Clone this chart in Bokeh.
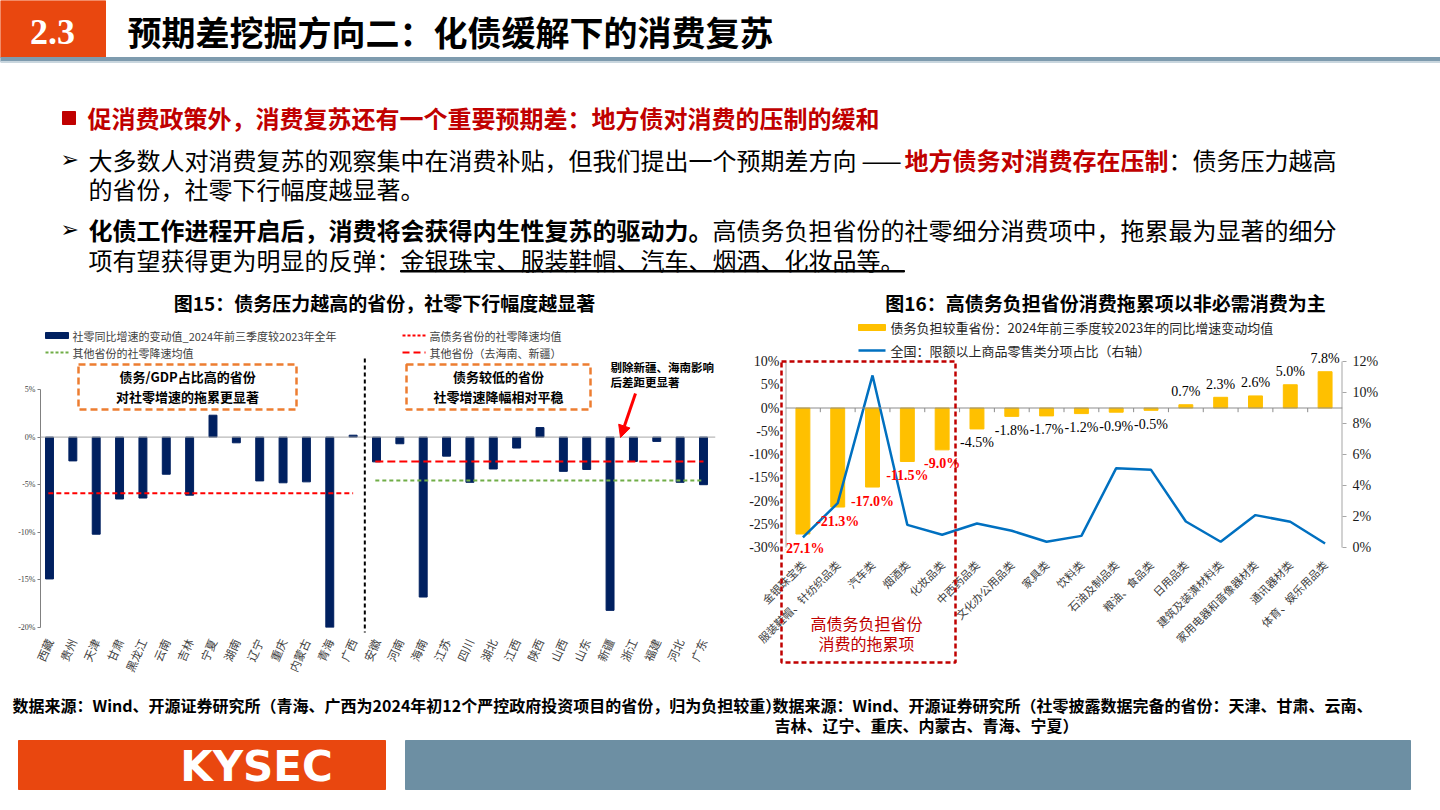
from bokeh.plotting import figure
from bokeh.models import (Range1d, LinearAxis, FixedTicker, PrintfTickFormatter, Label, LabelSet,
                          Arrow, NormalHead, Span, ColumnDataSource)
from bokeh.layouts import column, row
from bokeh.embed import file_html
from bokeh.resources import INLINE
from bokeh.core.properties import value

CJK = "Noto Sans CJK SC"
SERIF = "Liberation Serif"
SYM = "DejaVu Sans"

# ---------------- 图15 data ----------------
high_provinces = ["西藏", "贵州", "天津", "甘肃", "黑龙江", "云南", "吉林", "宁夏", "湖南", "辽宁",
                  "重庆", "内蒙古", "青海", "广西"]
high_change = [-14.9, -2.5, -10.2, -6.5, -6.4, -3.9, -6.1, 2.3, -0.6, -4.6, -4.8, -4.7, -20.0, 0.2]
other_provinces = ["安徽", "河南", "海南", "江苏", "四川", "湖北", "江西", "陕西", "山西", "山东",
                   "新疆", "浙江", "福建", "河北", "广东"]
other_change = [-2.6, -0.7, -16.8, -2.0, -4.75, -3.35, -1.15, 1.0, -3.6, -3.4, -18.2, -2.55, -0.45, -4.75, -5.0]
excluded_provinces = ["海南", "新疆"]
f15_ticks = [-20, -15, -10, -5, 0, 5]

# ---------------- 图16 data ----------------
categories = ["金银珠宝类", "服装鞋帽、针纺织品类", "汽车类", "烟酒类", "化妆品类", "中西药品类",
              "文化办公用品类", "家具类", "饮料类", "石油及制品类", "粮油、食品类", "日用品类",
              "建筑及装潢材料类", "家用电器和音像器材类", "通讯器材类", "体育、娱乐用品类"]
burden_change = [-27.1, -21.3, -17.0, -11.5, -9.0, -4.5, -1.8, -1.7, -1.2, -0.9, -0.5, 0.7, 2.3, 2.6, 5.0, 7.8]
national_share = [0.65, 2.86, 11.1, 1.46, 0.82, 1.55, 1.08, 0.37, 0.75, 5.12, 5.01, 1.68, 0.37, 2.09, 1.66, 0.26]
drag_items = 5
f16_left_ticks = [-30, -25, -20, -15, -10, -5, 0, 5, 10]
f16_right_ticks = [0, 2, 4, 6, 8, 10, 12]

W = 1440
MID_TOP, MID_BOT = 315, 690


def canvas(w, y0, y1):
    f = figure(width=w, height=y1 - y0, x_range=Range1d(0, w), y_range=Range1d(y1, y0),
               x_axis_type=None, y_axis_type=None, toolbar_location=None,
               output_backend="svg", min_border=0, title=None, frame_align=False)
    f.outline_line_color = None
    return f


def put(f, x, y, text, size, color="#000000", bold=False, align="left", font=CJK):
    f.add_layout(Label(x=x, y=y, text=text, text_font=font, text_font_size=f"{size}px",
                       text_font_style="bold" if bold else "normal", text_color=color,
                       text_align=align, text_baseline="middle"))


# ================= top: header + bullets + chart titles =================
top = canvas(W, 0, MID_TOP)
top.quad(left=0, right=105, top=0, bottom=57, color="#E9470F")
top.quad(left=0, right=W, top=57, bottom=61, color="#7E9BAE")
top.quad(left=0, right=W, top=61, bottom=62, color="#C9D6DE")
put(top, 52, 31, "2.3", 36, "white", True, "center", SERIF)
put(top, 127, 31, "预期差挖掘方向二：化债缓解下的消费复苏", 34, "#000000", True)

top.quad(left=62, right=75, top=111, bottom=124, color="#C00000")
put(top, 87, 117, "促消费政策外，消费复苏还有一个重要预期差：地方债对消费的压制的缓和", 24, "#C00000", True)
put(top, 60, 159, "➢", 22, font=SYM)
put(top, 88, 159, "大多数人对消费复苏的观察集中在消费补贴，但我们提出一个预期差方向", 24)
put(top, 881, 159, "——", 24, align="center")
put(top, 904, 159, "地方债务对消费存在压制", 24, "#C00000", True)
put(top, 1168, 159, "：债务压力越高", 24)
put(top, 88, 188, "的省份，社零下行幅度越显著。", 24)
put(top, 60, 229, "➢", 22, font=SYM)
put(top, 88, 229, "化债工作进程开启后，消费将会获得内生性复苏的驱动力。", 24, bold=True)
put(top, 712, 229, "高债务负担省份的社零细分消费项中，拖累最为显著的细分", 24)
put(top, 88, 259, "项有望获得更为明显的反弹：", 24)
put(top, 400, 259, "金银珠宝、服装鞋帽、汽车、烟酒、化妆品等。", 24)
top.quad(left=400, right=904, top=270, bottom=271.5, color="#000000")

put(top, 384, 302, "图15：债务压力越高的省份，社零下行幅度越显著", 19, bold=True, align="center")
put(top, 1105, 302, "图16：高债务负担省份消费拖累项以非必需消费为主", 19, bold=True, align="center")

# ================= left chart (图15) =================
provinces = high_provinces + other_provinces
changes = high_change + other_change
n_high = len(high_provinces)
xi = list(range(len(provinces)))

L_LEFT, L_RIGHT, L_TOP, L_BOT = 40, 715, 389, 627
XL0 = -0.385
L_UNIT = 23.357
pl = figure(width=735, height=MID_BOT - MID_TOP,
            x_range=Range1d(XL0, XL0 + (L_RIGHT - L_LEFT) / L_UNIT), y_range=Range1d(-20, 5),
            toolbar_location=None, output_backend="svg", title=None, frame_align=False,
            min_border_left=L_LEFT, min_border_right=735 - L_RIGHT,
            min_border_top=L_TOP - MID_TOP, min_border_bottom=MID_BOT - L_BOT)
pl.grid.visible = False
pl.outline_line_color = None

pl.vbar(x=xi, top=changes, width=0.34, color="#002060")
pl.add_layout(Span(location=0, dimension="width", line_color="#A6A6A6", line_width=1))

high_mean = sum(high_change) / len(high_change)
other_mean = sum(other_change) / len(other_change)
kept = [v for p_, v in zip(other_provinces, other_change) if p_ not in excluded_provinces]
other_mean_ex = sum(kept) / len(kept)
pl.segment(x0=[-0.05], x1=[n_high - 1], y0=[high_mean], y1=[high_mean],
           line_color="#FF0000", line_width=2, line_dash="5 3")
pl.segment(x0=[n_high - 0.05], x1=[len(provinces) - 1], y0=[other_mean], y1=[other_mean],
           line_color="#70AD47", line_width=2, line_dash="4 3")
pl.segment(x0=[n_high - 0.05], x1=[len(provinces) - 1], y0=[other_mean_ex], y1=[other_mean_ex],
           line_color="#FF0000", line_width=2, line_dash="8 4")

pl.xaxis.ticker = FixedTicker(ticks=xi)
pl.xaxis.major_label_overrides = {i: n for i, n in enumerate(provinces)}
pl.xaxis.major_label_orientation = 1.15
pl.xaxis.axis_line_color = None
pl.xaxis.major_tick_line_color = None
pl.xaxis.minor_tick_line_color = None
pl.xaxis.major_label_text_font = CJK
pl.xaxis.major_label_text_font_size = "11.5px"
pl.xaxis.major_label_text_color = "#404040"
pl.xaxis.major_label_standoff = 6

pl.yaxis.ticker = FixedTicker(ticks=f15_ticks)
pl.yaxis.formatter = PrintfTickFormatter(format="%d%%")
pl.yaxis.axis_line_color = "#808080"
pl.yaxis.major_tick_line_color = "#808080"
pl.yaxis.major_tick_out = 3
pl.yaxis.major_tick_in = 0
pl.yaxis.minor_tick_line_color = None
pl.yaxis.major_label_text_font = SERIF
pl.yaxis.major_label_text_font_size = "8px"
pl.yaxis.major_label_text_color = "#404040"
pl.yaxis.major_label_standoff = 2

# ================= right chart (图16) =================
ci = list(range(len(categories)))
R_LEFT, R_RIGHT = 785, 1342
R_FRAME_TOP, R_AX_TOP, R_AX0, R_BOT = 345, 361, 547, 556
L_PX = (R_AX0 - R_AX_TOP) / (max(f16_left_ticks) - min(f16_left_ticks))
S_PX = (R_AX0 - R_AX_TOP) / (max(f16_right_ticks) - min(f16_right_ticks))
pr = figure(width=W - 735, height=MID_BOT - MID_TOP,
            x_range=Range1d(-0.5, len(categories) - 0.5),
            y_range=Range1d(min(f16_left_ticks) - (R_BOT - R_AX0) / L_PX,
                            max(f16_left_ticks) + (R_AX_TOP - R_FRAME_TOP) / L_PX),
            toolbar_location=None, output_backend="svg", title=None, frame_align=False,
            min_border_left=R_LEFT - 735, min_border_right=W - R_RIGHT,
            min_border_top=R_FRAME_TOP - MID_TOP, min_border_bottom=MID_BOT - R_BOT)
pr.grid.visible = False
pr.outline_line_color = None
pr.extra_y_ranges = {"share": Range1d(min(f16_right_ticks) - (R_BOT - R_AX0) / S_PX,
                                      max(f16_right_ticks) + (R_AX_TOP - R_FRAME_TOP) / S_PX)}

pr.vbar(x=ci, top=burden_change, width=0.4, color="#FFC000")
pr.add_layout(Span(location=0, dimension="width", line_color="#8C8C8C", line_width=1))
bounds = [i + 0.5 for i in ci[:-1]]
pr.segment(x0=bounds, x1=bounds, y0=[0] * len(bounds), y1=[-0.9] * len(bounds), line_color="#8C8C8C")
# axis lines limited to the tick span
pr.segment(x0=[-0.5], x1=[-0.5], y0=[min(f16_left_ticks)], y1=[max(f16_left_ticks)],
           line_color="#A6A6A6", line_width=2)
pr.segment(x0=[len(categories) - 0.5], x1=[len(categories) - 0.5], y0=[min(f16_right_ticks)],
           y1=[max(f16_right_ticks)], y_range_name="share", line_color="#A6A6A6", line_width=2)
pr.line(x=ci, y=national_share, y_range_name="share", line_color="#0070C0", line_width=2.5)

lab_y = [v - 14 / L_PX if v < 0 else v + 13 / L_PX for v in burden_change]
lab_t = [f"{v:.1f}%" for v in burden_change]
src_red = ColumnDataSource(dict(x=ci[:drag_items], y=lab_y[:drag_items], t=lab_t[:drag_items]))
src_blk = ColumnDataSource(dict(x=ci[drag_items:], y=lab_y[drag_items:], t=lab_t[drag_items:]))
pr.add_layout(LabelSet(x="x", y="y", text="t", source=src_red, text_font=value(SERIF),
                       text_font_size="14px", text_font_style="bold", text_color="#FF0000",
                       text_align="center", text_baseline="middle"))
pr.add_layout(LabelSet(x="x", y="y", text="t", source=src_blk, text_font=value(SERIF),
                       text_font_size="14px", text_color="#000000",
                       text_align="center", text_baseline="middle"))

pr.xaxis.ticker = FixedTicker(ticks=ci)
pr.xaxis.major_label_overrides = {i: n for i, n in enumerate(categories)}
pr.xaxis.major_label_orientation = 0.785
pr.xaxis.axis_line_color = None
pr.xaxis.major_tick_line_color = None
pr.xaxis.minor_tick_line_color = None
pr.xaxis.major_label_text_font = CJK
pr.xaxis.major_label_text_font_size = "11px"
pr.xaxis.major_label_text_color = "#404040"
pr.xaxis.major_label_standoff = 0

pr.yaxis.ticker = FixedTicker(ticks=f16_left_ticks)
pr.yaxis.formatter = PrintfTickFormatter(format="%d%%")
ra = LinearAxis(y_range_name="share", ticker=FixedTicker(ticks=f16_right_ticks),
                formatter=PrintfTickFormatter(format="%d%%"))
pr.add_layout(ra, "right")
for ax, tick in ((pr.yaxis[0], 0), (ra, 4)):
    ax.axis_line_color = None
    ax.major_tick_line_color = "#A6A6A6"
    ax.major_tick_out = tick
    ax.major_tick_in = 0
    ax.minor_tick_line_color = None
    ax.major_label_text_font = SERIF
    ax.major_label_text_font_size = "14px"
    ax.major_label_text_color = "#1A1A1A"
    ax.major_label_standoff = 6

# ================= transparent overlay over both charts (legends, call-outs) =================
ov = canvas(W, MID_TOP, MID_BOT)
ov.background_fill_color = None
ov.border_fill_color = None
ov.margin = (-(MID_BOT - MID_TOP), 0, 0, 0)


def lpx(xd):
    return L_LEFT + (xd - XL0) * L_UNIT


# 图15 legend
ov.quad(left=45, right=68, top=332, bottom=338, color="#002060")
ov.segment(x0=[45], x1=[68], y0=[352], y1=[352], line_color="#70AD47", line_width=2, line_dash="3 2")
ov.segment(x0=[402], x1=[425], y0=[335], y1=[335], line_color="#FF0000", line_width=2, line_dash="3 2")
ov.segment(x0=[402], x1=[425], y0=[352], y1=[352], line_color="#FF0000", line_width=2, line_dash="7 4")
put(ov, 72, 335, "社零同比增速的变动值_2024年前三季度较2023年全年", 11, "#404040")
put(ov, 72, 352, "其他省份的社零降速均值", 11, "#404040")
put(ov, 429, 335, "高债务省份的社零降速均值", 11, "#404040")
put(ov, 429, 352, "其他省份（去海南、新疆）", 11, "#404040")

# group separator
sep_x = lpx(n_high - 0.5)
ov.segment(x0=[sep_x], x1=[sep_x], y0=[358], y1=[632], line_color="#000000", line_width=2, line_dash="4 3")

for (x0, x1, t1, t2) in [(78, 296, "债务/GDP占比高的省份", "对社零增速的拖累更显著"),
                         (406, 590, "债务较低的省份", "社零增速降幅相对平稳")]:
    ov.quad(left=x0, right=x1, top=364, bottom=409, fill_color=None,
            line_color="#ED7D31", line_width=2.5, line_dash="7 4")
    put(ov, (x0 + x1) / 2, 376, t1, 13, bold=True, align="center")
    put(ov, (x0 + x1) / 2, 396, t2, 13, bold=True, align="center")

put(ov, 610, 366, "剔除新疆、海南影响", 11.5, bold=True)
put(ov, 610, 381, "后差距更显著", 11.5, bold=True)
ov.add_layout(Arrow(end=NormalHead(size=12, fill_color="#FF0000", line_color="#FF0000"),
                    x_start=635, y_start=393, x_end=620, y_end=437,
                    line_color="#FF0000", line_width=3))

# 图16 legend
ov.quad(left=858, right=885, top=324, bottom=330, color="#FFC000")
ov.segment(x0=[858], x1=[885], y0=[350], y1=[350], line_color="#0070C0", line_width=2.5)
put(ov, 890, 327, "债务负担较重省份：2024年前三季度较2023年的同比增速变动均值", 13, "#262626")
put(ov, 890, 350, "全国：限额以上商品零售类分项占比（右轴）", 13, "#262626")

# drag-item highlight box
ov.quad(left=781, right=955, top=361, bottom=662, fill_color=None,
        line_color="#C00000", line_width=2.5, line_dash="5 3")
put(ov, 866, 622, "高债务负担省份", 16, "#C00000", align="center")
put(ov, 866, 642, "消费的拖累项", 16, "#C00000", align="center")

# ================= bottom: sources + footer =================
bot = canvas(W, MID_BOT, 810)
put(bot, 12, 704, "数据来源：Wind、开源证券研究所（青海、广西为2024年初12个严控政府投资项目的省份，归为负担较重）", 16, bold=True)
put(bot, 772, 704, "数据来源：Wind、开源证券研究所（社零披露数据完备的省份：天津、甘肃、云南、", 16, bold=True)
put(bot, 774, 724, "吉林、辽宁、重庆、内蒙古、青海、宁夏）", 16, bold=True)
bot.quad(left=18, right=385, top=740, bottom=789, color="#E9470F")
bot.quad(left=405, right=1410, top=740, bottom=789, color="#6D8FA3")
put(bot, 256, 766, "KYSEC", 42, "white", True, "center", SYM)

layout = column(top, row(pl, pr), ov, bot)
open("out.html", "w").write(file_html(layout, INLINE))
